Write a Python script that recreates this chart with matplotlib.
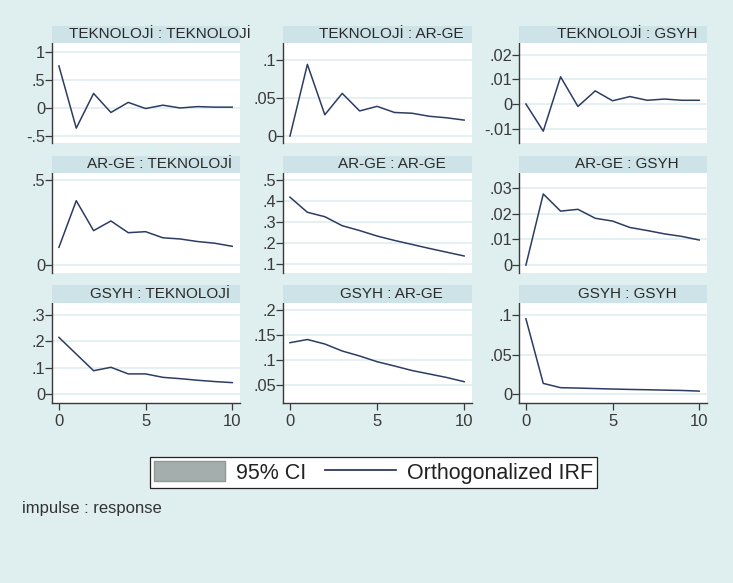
import matplotlib
matplotlib.use("Agg")
import matplotlib.pyplot as plt
from matplotlib.patches import Patch, Rectangle
from matplotlib.lines import Line2D

plt.rcParams['font.family'] = ['Liberation Sans', 'DejaVu Sans']

steps = [0, 1, 2, 3, 4, 5, 6, 7, 8, 9, 10]

titles = [
    "TEKNOLOJİ : TEKNOLOJİ", "TEKNOLOJİ : AR-GE", "TEKNOLOJİ : GSYH",
    "AR-GE : TEKNOLOJİ", "AR-GE : AR-GE", "AR-GE : GSYH",
    "GSYH : TEKNOLOJİ", "GSYH : AR-GE", "GSYH : GSYH",
]

irf_tek_tek = [0.75, -0.36, 0.26, -0.08, 0.10, -0.01, 0.05, 0.00, 0.025, 0.015, 0.015]
irf_tek_arge = [0.0, 0.094, 0.028, 0.056, 0.033, 0.039, 0.031, 0.030, 0.026, 0.024, 0.021]
irf_tek_gsyh = [0.0, -0.011, 0.011, -0.001, 0.0053, 0.0013, 0.003, 0.0015, 0.002, 0.0015, 0.0015]
irf_arge_tek = [0.104, 0.378, 0.202, 0.259, 0.19, 0.196, 0.16, 0.153, 0.138, 0.128, 0.11]
irf_arge_arge = [0.418, 0.346, 0.325, 0.282, 0.259, 0.233, 0.212, 0.193, 0.174, 0.156, 0.138]
irf_arge_gsyh = [0.0, 0.0278, 0.0211, 0.0218, 0.0183, 0.0172, 0.0147, 0.0135, 0.0122, 0.0112, 0.0098]
irf_gsyh_tek = [0.215, 0.152, 0.089, 0.102, 0.077, 0.077, 0.064, 0.059, 0.053, 0.048, 0.044]
irf_gsyh_arge = [0.1346, 0.141, 0.132, 0.118, 0.108, 0.0966, 0.088, 0.079, 0.072, 0.065, 0.0566]
irf_gsyh_gsyh = [0.095, 0.0137, 0.0083, 0.0078, 0.0072, 0.0066, 0.0061, 0.0057, 0.0052, 0.0048, 0.0040]

series = [irf_tek_tek, irf_tek_arge, irf_tek_gsyh,
          irf_arge_tek, irf_arge_arge, irf_arge_gsyh,
          irf_gsyh_tek, irf_gsyh_arge, irf_gsyh_gsyh]

yticks = [
    [-0.5, 0, 0.5, 1], [0, 0.05, 0.1], [-0.01, 0, 0.01, 0.02],
    [0, 0.5], [0.1, 0.2, 0.3, 0.4, 0.5], [0, 0.01, 0.02, 0.03],
    [0, 0.1, 0.2, 0.3], [0.05, 0.1, 0.15, 0.2], [0, 0.05, 0.1],
]
yticklabels = [
    ["-.5", "0", ".5", "1"], ["0", ".05", ".1"], ["-.01", "0", ".01", ".02"],
    ["0", ".5"], [".1", ".2", ".3", ".4", ".5"], ["0", ".01", ".02", ".03"],
    ["0", ".1", ".2", ".3"], [".05", ".1", ".15", ".2"], ["0", ".05", ".1"],
]
ylims = [
    (-0.625, 1.16), (-0.009, 0.122), (-0.0158, 0.0247),
    (-0.047, 0.541), (0.057, 0.533), (-0.0031, 0.036),
    (-0.033, 0.345), (0.014, 0.214), (-0.011, 0.115),
]
xticks = [0, 5, 10]

legend_labels = ["95% CI", "Orthogonalized IRF"]
note = "impulse : response"

W, H = 733, 583
BG = "#dfeeee"
STRIP = "#cde3e7"
GRID = "#e2eff0"
LINE = "#2c3c62"
AX = "#3a3a3a"

fig = plt.figure(figsize=(W / 100, H / 100), dpi=100)
fig.patch.set_facecolor(BG)

col_x = [(52, 240), (283, 472), (519, 707)]
row_y = [(26, 43, 143), (156, 173, 273), (285, 303, 403)]

for i in range(9):
    r, c = divmod(i, 3)
    x0, x1 = col_x[c]
    st, pt, pb = row_y[r]
    fig.patches.append(Rectangle((x0 / W, 1 - pt / H), (x1 - x0) / W, (pt - st) / H,
                                 transform=fig.transFigure, facecolor=STRIP,
                                 edgecolor="none", zorder=0))
    fig.text((x0 + x1) / 2 / W + 14 / W, 1 - (st + pt) / 2 / H, titles[i],
             ha="center", va="center", fontsize=11, color="#2a2a2a")
    ax = fig.add_axes([x0 / W, 1 - pb / H, (x1 - x0) / W, (pb - pt) / H])
    ax.set_facecolor("white")
    ax.plot(steps, series[i], color=LINE, lw=1.1, zorder=3)
    ax.set_xlim(-0.4, 10.45)
    ax.set_ylim(*ylims[i])
    ax.set_yticks(yticks[i])
    ax.set_yticklabels(yticklabels[i])
    for y in yticks[i]:
        ax.axhline(y, color=GRID, lw=1.3, zorder=1)
    for s in ["top", "right"]:
        ax.spines[s].set_visible(False)
    ax.spines["left"].set_color(AX)
    ax.spines["left"].set_linewidth(1.0)
    ax.tick_params(axis="y", direction="out", length=5, width=0.9, color=AX,
                   pad=0, labelsize=11.8, labelcolor="#3a3a3a")
    if r == 2:
        ax.set_xticks(xticks)
        ax.set_xticklabels([str(t) for t in xticks])
        ax.spines["bottom"].set_color(AX)
        ax.spines["bottom"].set_linewidth(1.0)
        ax.tick_params(axis="x", direction="out", length=5, width=0.9, color=AX,
                       pad=3, labelsize=12, labelcolor="#3a3a3a")
    else:
        ax.spines["bottom"].set_visible(False)
        ax.set_xticks([])

handles = [Patch(facecolor="#a4afad", edgecolor="#8e9997", lw=1.0),
           Line2D([0], [0], color=LINE, lw=1.3)]
leg = fig.legend(handles, legend_labels, ncol=2, loc="center",
                 bbox_to_anchor=((149 + 598) / 2 / W, 1 - 472.5 / H),
                 fontsize=15.5, frameon=True, fancybox=False, edgecolor="#222222",
                 framealpha=1, handlelength=3.3, handleheight=1.05, handletextpad=0.5,
                 columnspacing=0.9, borderpad=0.2, borderaxespad=0)
leg.get_frame().set_linewidth(0.9)
for t in leg.get_texts():
    t.set_color("#222222")

fig.text(22 / W, 1 - 509 / H, note, ha="left", va="center", fontsize=12, color="#333333")

fig.savefig("out.png", dpi=100, facecolor=BG)
